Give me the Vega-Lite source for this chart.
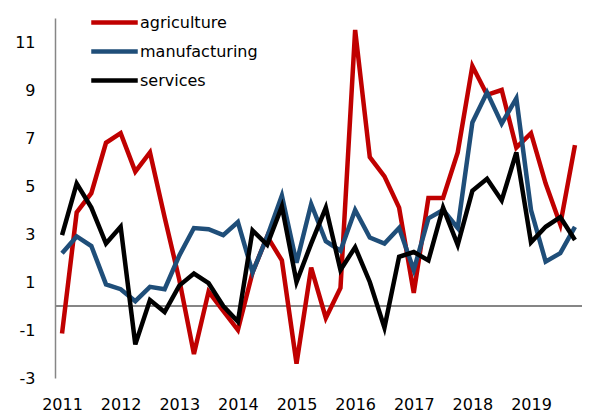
{
  "$schema": "https://vega.github.io/schema/vega-lite/v6.json",
  "width": 527,
  "height": 360,
  "autosize": {"type": "none"},
  "padding": {"left": 55, "top": 18, "right": 22, "bottom": 37},
  "background": "white",
  "config": {
    "view": {"stroke": null},
    "font": "DejaVu Sans"
  },
  "datasets": {
    "growth": [
      {"t": 2011.0, "series": "agriculture", "value": -1.15},
      {"t": 2011.25, "series": "agriculture", "value": 3.9},
      {"t": 2011.5, "series": "agriculture", "value": 4.7},
      {"t": 2011.75, "series": "agriculture", "value": 6.8},
      {"t": 2012.0, "series": "agriculture", "value": 7.2},
      {"t": 2012.25, "series": "agriculture", "value": 5.6},
      {"t": 2012.5, "series": "agriculture", "value": 6.4},
      {"t": 2012.75, "series": "agriculture", "value": 3.7},
      {"t": 2013.0, "series": "agriculture", "value": 1.1},
      {"t": 2013.25, "series": "agriculture", "value": -2.0},
      {"t": 2013.5, "series": "agriculture", "value": 0.6},
      {"t": 2013.75, "series": "agriculture", "value": -0.2},
      {"t": 2014.0, "series": "agriculture", "value": -1.0},
      {"t": 2014.25, "series": "agriculture", "value": 1.4},
      {"t": 2014.5, "series": "agriculture", "value": 2.9},
      {"t": 2014.75, "series": "agriculture", "value": 1.9},
      {"t": 2015.0, "series": "agriculture", "value": -2.4},
      {"t": 2015.25, "series": "agriculture", "value": 1.6},
      {"t": 2015.5, "series": "agriculture", "value": -0.5},
      {"t": 2015.75, "series": "agriculture", "value": 0.75},
      {"t": 2016.0, "series": "agriculture", "value": 11.5},
      {"t": 2016.25, "series": "agriculture", "value": 6.2},
      {"t": 2016.5, "series": "agriculture", "value": 5.4},
      {"t": 2016.75, "series": "agriculture", "value": 4.1},
      {"t": 2017.0, "series": "agriculture", "value": 0.55},
      {"t": 2017.25, "series": "agriculture", "value": 4.5},
      {"t": 2017.5, "series": "agriculture", "value": 4.5},
      {"t": 2017.75, "series": "agriculture", "value": 6.4},
      {"t": 2018.0, "series": "agriculture", "value": 10.0},
      {"t": 2018.25, "series": "agriculture", "value": 8.8},
      {"t": 2018.5, "series": "agriculture", "value": 9.0},
      {"t": 2018.75, "series": "agriculture", "value": 6.6},
      {"t": 2019.0, "series": "agriculture", "value": 7.2},
      {"t": 2019.25, "series": "agriculture", "value": 5.1},
      {"t": 2019.5, "series": "agriculture", "value": 3.4},
      {"t": 2019.75, "series": "agriculture", "value": 6.7},
      {"t": 2011.0, "series": "manufacturing", "value": 2.2},
      {"t": 2011.25, "series": "manufacturing", "value": 2.9},
      {"t": 2011.5, "series": "manufacturing", "value": 2.5},
      {"t": 2011.75, "series": "manufacturing", "value": 0.9},
      {"t": 2012.0, "series": "manufacturing", "value": 0.7},
      {"t": 2012.25, "series": "manufacturing", "value": 0.2},
      {"t": 2012.5, "series": "manufacturing", "value": 0.8},
      {"t": 2012.75, "series": "manufacturing", "value": 0.7},
      {"t": 2013.0, "series": "manufacturing", "value": 2.1},
      {"t": 2013.25, "series": "manufacturing", "value": 3.25},
      {"t": 2013.5, "series": "manufacturing", "value": 3.2},
      {"t": 2013.75, "series": "manufacturing", "value": 2.95},
      {"t": 2014.0, "series": "manufacturing", "value": 3.5},
      {"t": 2014.25, "series": "manufacturing", "value": 1.4},
      {"t": 2014.5, "series": "manufacturing", "value": 2.9},
      {"t": 2014.75, "series": "manufacturing", "value": 4.6},
      {"t": 2015.0, "series": "manufacturing", "value": 1.8},
      {"t": 2015.25, "series": "manufacturing", "value": 4.25},
      {"t": 2015.5, "series": "manufacturing", "value": 2.7},
      {"t": 2015.75, "series": "manufacturing", "value": 2.3},
      {"t": 2016.0, "series": "manufacturing", "value": 4.0},
      {"t": 2016.25, "series": "manufacturing", "value": 2.85},
      {"t": 2016.5, "series": "manufacturing", "value": 2.6},
      {"t": 2016.75, "series": "manufacturing", "value": 3.25},
      {"t": 2017.0, "series": "manufacturing", "value": 1.5},
      {"t": 2017.25, "series": "manufacturing", "value": 3.65},
      {"t": 2017.5, "series": "manufacturing", "value": 4.0},
      {"t": 2017.75, "series": "manufacturing", "value": 3.25},
      {"t": 2018.0, "series": "manufacturing", "value": 7.65},
      {"t": 2018.25, "series": "manufacturing", "value": 8.9},
      {"t": 2018.5, "series": "manufacturing", "value": 7.6},
      {"t": 2018.75, "series": "manufacturing", "value": 8.65},
      {"t": 2019.0, "series": "manufacturing", "value": 4.0},
      {"t": 2019.25, "series": "manufacturing", "value": 1.85},
      {"t": 2019.5, "series": "manufacturing", "value": 2.2},
      {"t": 2019.75, "series": "manufacturing", "value": 3.3},
      {"t": 2011.0, "series": "services", "value": 2.95},
      {"t": 2011.25, "series": "services", "value": 5.1},
      {"t": 2011.5, "series": "services", "value": 4.1},
      {"t": 2011.75, "series": "services", "value": 2.6},
      {"t": 2012.0, "series": "services", "value": 3.3},
      {"t": 2012.25, "series": "services", "value": -1.6},
      {"t": 2012.5, "series": "services", "value": 0.25},
      {"t": 2012.75, "series": "services", "value": -0.25},
      {"t": 2013.0, "series": "services", "value": 0.85},
      {"t": 2013.25, "series": "services", "value": 1.35},
      {"t": 2013.5, "series": "services", "value": 0.95},
      {"t": 2013.75, "series": "services", "value": 0.0},
      {"t": 2014.0, "series": "services", "value": -0.65},
      {"t": 2014.25, "series": "services", "value": 3.15},
      {"t": 2014.5, "series": "services", "value": 2.55},
      {"t": 2014.75, "series": "services", "value": 4.15},
      {"t": 2015.0, "series": "services", "value": 1.0},
      {"t": 2015.25, "series": "services", "value": 2.6},
      {"t": 2015.5, "series": "services", "value": 4.1},
      {"t": 2015.75, "series": "services", "value": 1.5},
      {"t": 2016.0, "series": "services", "value": 2.45},
      {"t": 2016.25, "series": "services", "value": 1.0},
      {"t": 2016.5, "series": "services", "value": -0.9},
      {"t": 2016.75, "series": "services", "value": 2.05},
      {"t": 2017.0, "series": "services", "value": 2.25},
      {"t": 2017.25, "series": "services", "value": 1.9},
      {"t": 2017.5, "series": "services", "value": 4.1},
      {"t": 2017.75, "series": "services", "value": 2.55},
      {"t": 2018.0, "series": "services", "value": 4.8},
      {"t": 2018.25, "series": "services", "value": 5.3},
      {"t": 2018.5, "series": "services", "value": 4.4},
      {"t": 2018.75, "series": "services", "value": 6.4},
      {"t": 2019.0, "series": "services", "value": 2.65},
      {"t": 2019.25, "series": "services", "value": 3.3},
      {"t": 2019.5, "series": "services", "value": 3.7},
      {"t": 2019.75, "series": "services", "value": 2.75}
    ]
  },
  "data": {"name": "growth"},
  "layer": [
    {
      "mark": {"type": "rule", "color": "#868686", "strokeWidth": 2},
      "encoding": {"y": {"datum": 0, "type": "quantitative"}}
    },
    {
      "mark": {"type": "line", "strokeWidth": 4.5, "strokeJoin": "miter", "strokeCap": "butt"},
      "encoding": {
        "x": {
          "field": "t",
          "type": "quantitative",
          "scale": {"domain": [2010.88, 2019.87], "nice": false, "zero": false},
          "axis": {
            "title": null,
            "values": [2011, 2012, 2013, 2014, 2015, 2016, 2017, 2018, 2019],
            "format": "d",
            "domain": false,
            "ticks": false,
            "tickSize": 0,
            "grid": false,
            "labelPadding": 18,
            "labelFontSize": 16,
            "labelColor": "#000000",
            "labelFont": "DejaVu Sans"
          }
        },
        "y": {
          "field": "value",
          "type": "quantitative",
          "scale": {"domain": [-3, 12], "nice": false, "zero": false},
          "axis": {
            "title": null,
            "values": [-3, -1, 1, 3, 5, 7, 9, 11],
            "labelExpr": "'' + datum.value",
            "domain": true,
            "domainColor": "#868686",
            "domainWidth": 1.5,
            "ticks": false,
            "tickSize": 0,
            "grid": false,
            "labelPadding": 20,
            "labelFontSize": 16,
            "labelColor": "#000000",
            "labelFont": "DejaVu Sans"
          }
        },
        "color": {
          "field": "series",
          "type": "nominal",
          "scale": {
            "domain": ["agriculture", "manufacturing", "services"],
            "range": ["#C00000", "#1F4E79", "#000000"]
          },
          "legend": {
            "title": null,
            "orient": "none",
            "legendX": 42,
            "legendY": -13,
            "symbolType": "M-1.55,0H1.55",
            "symbolSize": 900,
            "symbolStrokeWidth": 4.5,
            "labelFontSize": 16,
            "labelFont": "DejaVu Sans",
            "labelColor": "#000000",
            "labelOffset": 8,
            "rowPadding": 2,
            "padding": 0
          }
        }
      }
    }
  ]
}
